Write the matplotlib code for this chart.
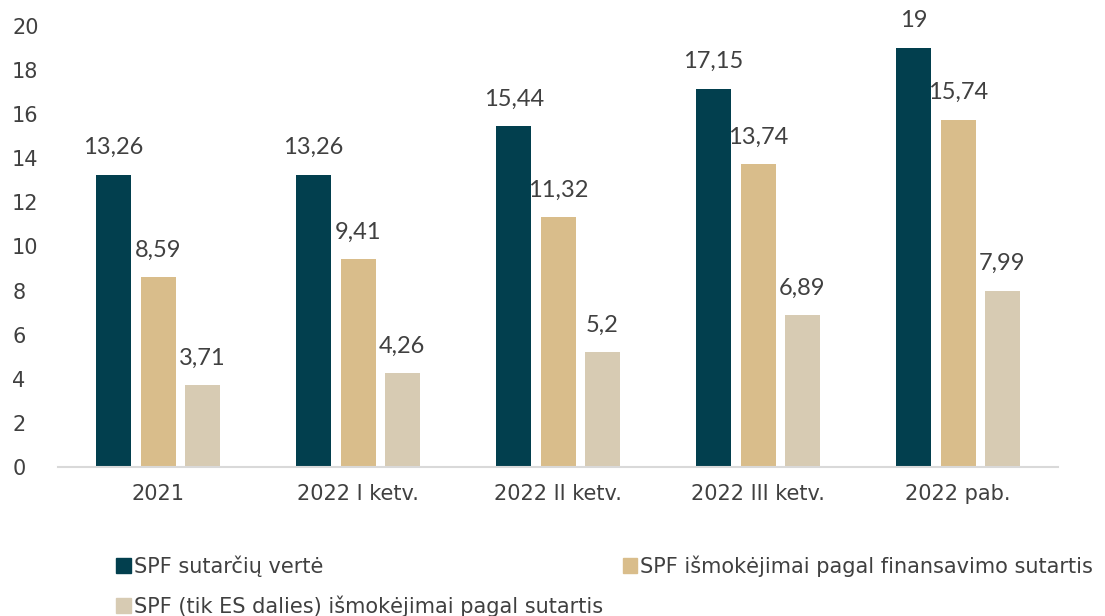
import numpy as np
import matplotlib.pyplot as plt
from matplotlib.patches import Patch

categories = ["2021", "2022 I ketv.", "2022 II ketv.", "2022 III ketv.", "2022 pab."]
sutarciu_verte = [13.26, 13.26, 15.44, 17.15, 19]
ismokejimai = [8.59, 9.41, 11.32, 13.74, 15.74]
es_dalis = [3.71, 4.26, 5.2, 6.89, 7.99]

labels = ["SPF sutarčių vertė",
          "SPF išmokėjimai pagal finansavimo sutartis",
          "SPF (tik ES dalies) išmokėjimai pagal sutartis"]
colors = ["#023f4e", "#d9bd8b", "#d7cbb3"]
txt = "#404040"

def fmt(v):
	return ("%g" % v).replace(".", ",")

fig = plt.figure(figsize=(11.05, 6.16), dpi=100)
ax = fig.add_axes([0.0525, 0.242, 0.905, 0.716])

x = np.arange(len(categories))
w = 0.175
off = 0.222
series = [sutarciu_verte, ismokejimai, es_dalis]
for i, (vals, c) in enumerate(zip(series, colors)):
	bars = ax.bar(x + (i - 1) * off, vals, w, color=c, zorder=2)
	for b, v in zip(bars, vals):
		ax.text(b.get_x() + b.get_width() / 2, v + 0.75, fmt(v), ha="center", va="bottom",
			fontsize=17, color=txt, family="Lato", clip_on=False)

ax.set_xlim(-0.5, len(categories) - 0.5)
ax.set_ylim(0, 20)
ax.set_yticks(np.arange(0, 21, 2))
ax.set_xticks(x)
ax.set_xticklabels(categories)
for s in ["top", "right", "left"]:
	ax.spines[s].set_visible(False)
ax.spines["bottom"].set_color("#d9d9d9")
ax.spines["bottom"].set_linewidth(1.5)
ax.tick_params(axis="both", length=0, labelsize=15, colors=txt)
ax.tick_params(axis="x", pad=12)
ax.tick_params(axis="y", pad=33)
for t in ax.get_yticklabels():
	t.set_horizontalalignment("left")

handles = [Patch(color=colors[0], label=labels[0]),
           Patch(color=colors[2], label=labels[2]),
           Patch(color=colors[1], label=labels[1])]
fig.legend(handles=handles, ncol=2, loc="lower left", bbox_to_anchor=(0.088, -0.032),
	frameon=False, fontsize=15, labelcolor=txt, handlelength=0.7, handleheight=0.7,
	handletextpad=0.15, columnspacing=0.95, labelspacing=0.9)

fig.savefig("out.png", dpi=100)
